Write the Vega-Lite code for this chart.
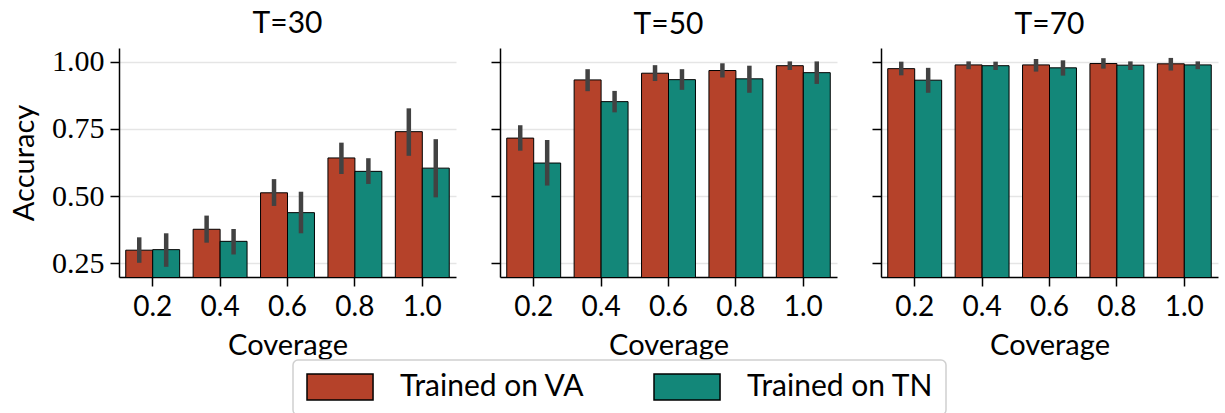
{
  "$schema": "https://vega.github.io/schema/vega-lite/v6.json",
  "background": "white",
  "padding": {"left": 10, "top": 8, "right": 5, "bottom": 0},
  "spacing": 34,
  "data": {"values": [
    {"T": 30, "Coverage": "0.2", "Model": "Trained on VA", "Accuracy": 0.298, "Low": 0.251, "High": 0.346},
    {"T": 30, "Coverage": "0.2", "Model": "Trained on TN", "Accuracy": 0.300, "Low": 0.236, "High": 0.361},
    {"T": 30, "Coverage": "0.4", "Model": "Trained on VA", "Accuracy": 0.376, "Low": 0.326, "High": 0.427},
    {"T": 30, "Coverage": "0.4", "Model": "Trained on TN", "Accuracy": 0.331, "Low": 0.282, "High": 0.377},
    {"T": 30, "Coverage": "0.6", "Model": "Trained on VA", "Accuracy": 0.512, "Low": 0.463, "High": 0.563},
    {"T": 30, "Coverage": "0.6", "Model": "Trained on TN", "Accuracy": 0.438, "Low": 0.361, "High": 0.516},
    {"T": 30, "Coverage": "0.8", "Model": "Trained on VA", "Accuracy": 0.642, "Low": 0.582, "High": 0.699},
    {"T": 30, "Coverage": "0.8", "Model": "Trained on TN", "Accuracy": 0.592, "Low": 0.545, "High": 0.641},
    {"T": 30, "Coverage": "1.0", "Model": "Trained on VA", "Accuracy": 0.740, "Low": 0.650, "High": 0.827},
    {"T": 30, "Coverage": "1.0", "Model": "Trained on TN", "Accuracy": 0.604, "Low": 0.495, "High": 0.712},
    {"T": 50, "Coverage": "0.2", "Model": "Trained on VA", "Accuracy": 0.716, "Low": 0.669, "High": 0.764},
    {"T": 50, "Coverage": "0.2", "Model": "Trained on TN", "Accuracy": 0.623, "Low": 0.539, "High": 0.709},
    {"T": 50, "Coverage": "0.4", "Model": "Trained on VA", "Accuracy": 0.933, "Low": 0.891, "High": 0.973},
    {"T": 50, "Coverage": "0.4", "Model": "Trained on TN", "Accuracy": 0.852, "Low": 0.812, "High": 0.892},
    {"T": 50, "Coverage": "0.6", "Model": "Trained on VA", "Accuracy": 0.958, "Low": 0.929, "High": 0.988},
    {"T": 50, "Coverage": "0.6", "Model": "Trained on TN", "Accuracy": 0.934, "Low": 0.896, "High": 0.973},
    {"T": 50, "Coverage": "0.8", "Model": "Trained on VA", "Accuracy": 0.968, "Low": 0.942, "High": 0.995},
    {"T": 50, "Coverage": "0.8", "Model": "Trained on TN", "Accuracy": 0.937, "Low": 0.885, "High": 0.986},
    {"T": 50, "Coverage": "1.0", "Model": "Trained on VA", "Accuracy": 0.986, "Low": 0.970, "High": 1.002},
    {"T": 50, "Coverage": "1.0", "Model": "Trained on TN", "Accuracy": 0.960, "Low": 0.918, "High": 1.002},
    {"T": 70, "Coverage": "0.2", "Model": "Trained on VA", "Accuracy": 0.975, "Low": 0.950, "High": 1.001},
    {"T": 70, "Coverage": "0.2", "Model": "Trained on TN", "Accuracy": 0.932, "Low": 0.885, "High": 0.978},
    {"T": 70, "Coverage": "0.4", "Model": "Trained on VA", "Accuracy": 0.989, "Low": 0.973, "High": 1.002},
    {"T": 70, "Coverage": "0.4", "Model": "Trained on TN", "Accuracy": 0.986, "Low": 0.970, "High": 1.001},
    {"T": 70, "Coverage": "0.6", "Model": "Trained on VA", "Accuracy": 0.989, "Low": 0.964, "High": 1.011},
    {"T": 70, "Coverage": "0.6", "Model": "Trained on TN", "Accuracy": 0.978, "Low": 0.949, "High": 1.006},
    {"T": 70, "Coverage": "0.8", "Model": "Trained on VA", "Accuracy": 0.994, "Low": 0.975, "High": 1.014},
    {"T": 70, "Coverage": "0.8", "Model": "Trained on TN", "Accuracy": 0.988, "Low": 0.970, "High": 1.002},
    {"T": 70, "Coverage": "1.0", "Model": "Trained on VA", "Accuracy": 0.993, "Low": 0.968, "High": 1.015},
    {"T": 70, "Coverage": "1.0", "Model": "Trained on TN", "Accuracy": 0.989, "Low": 0.973, "High": 1.002}
  ]},
  "config": {
    "view": {"stroke": null},
    "title": {"font": "Lato", "fontSize": 30, "fontWeight": "normal", "color": "black", "offset": 8},
    "axis": {
      "domainColor": "black", "domainWidth": 1.5, "tickColor": "black", "tickWidth": 1.5, "tickSize": 9,
      "labelColor": "black", "titleColor": "black", "titleFontWeight": "normal",
      "titleFont": "Lato", "titleFontSize": 29
    },
    "axisX": {"labelFont": "Lato", "labelFontSize": 28, "labelAngle": 0, "labelPadding": 7, "titlePadding": 10, "grid": false},
    "axisY": {"labelFont": "Liberation Serif", "labelFontSize": 30, "labelPadding": 6, "titlePadding": 12, "gridColor": "#e5e5e5", "gridWidth": 1.5},
    "legend": {
      "orient": "none", "legendX": 174, "legendY": 312, "direction": "horizontal", "title": null,
      "symbolType": "M-1,-1H4.08V1H-1Z", "symbolSize": 676, "symbolStrokeColor": "black", "symbolStrokeWidth": 1.5, "symbolOpacity": 1,
      "labelFont": "Lato", "labelFontSize": 30, "labelColor": "black", "labelOffset": 65, "labelLimit": 400,
      "columnPadding": 66, "strokeColor": "#d0d0d0", "strokeWidth": 1.5, "cornerRadius": 5, "padding": 12, "fillColor": "white"
    }
  },
  "hconcat": [
    {
      "width": 337, "height": 229,
      "title": "T=30",
      "transform": [{"filter": "datum.T == 30"}],
      "encoding": {
        "x": {"field": "Coverage", "type": "nominal", "title": "Coverage", "scale": {"paddingInner": 0.2, "paddingOuter": 0.1}},
        "xOffset": {"field": "Model", "type": "nominal", "sort": ["Trained on VA", "Trained on TN"]}
      },
      "layer": [
        {
          "mark": {"type": "bar", "clip": true, "stroke": "black", "strokeWidth": 1},
          "encoding": {
            "y": {"field": "Accuracy", "type": "quantitative", "scale": {"domain": [0.198, 1.052], "nice": false, "zero": false},
                  "axis": {"values": [0.25, 0.5, 0.75, 1.0], "format": ".2f", "title": "Accuracy", "grid": true}},
            "color": {"field": "Model", "type": "nominal", "scale": {"domain": ["Trained on VA", "Trained on TN"], "range": ["#b5422a", "#138779"]},
                      "legend": {"encode": {"symbols": {"update": {"fill": {"signal": "datum.value === 'Trained on VA' ? '#cc3311' : '#009988'"}, "stroke": {"value": "black"}, "strokeWidth": {"value": 1.5}}}}}}
          }
        },
        {
          "mark": {"type": "rule", "strokeWidth": 4.5, "color": "#424242"},
          "encoding": {
            "y": {"field": "Low", "type": "quantitative"},
            "y2": {"field": "High"}
          }
        }
      ]
    },
    {
      "width": 337, "height": 229,
      "title": "T=50",
      "transform": [{"filter": "datum.T == 50"}],
      "encoding": {
        "x": {"field": "Coverage", "type": "nominal", "title": "Coverage", "scale": {"paddingInner": 0.2, "paddingOuter": 0.1}},
        "xOffset": {"field": "Model", "type": "nominal", "sort": ["Trained on VA", "Trained on TN"]}
      },
      "layer": [
        {
          "mark": {"type": "bar", "clip": true, "stroke": "black", "strokeWidth": 1},
          "encoding": {
            "y": {"field": "Accuracy", "type": "quantitative", "scale": {"domain": [0.198, 1.052], "nice": false, "zero": false},
                  "axis": {"values": [0.25, 0.5, 0.75, 1.0], "labels": false, "title": null, "grid": true}},
            "color": {"field": "Model", "type": "nominal", "scale": {"domain": ["Trained on VA", "Trained on TN"], "range": ["#b5422a", "#138779"]},
                      "legend": {"encode": {"symbols": {"update": {"fill": {"signal": "datum.value === 'Trained on VA' ? '#cc3311' : '#009988'"}, "stroke": {"value": "black"}, "strokeWidth": {"value": 1.5}}}}}}
          }
        },
        {
          "mark": {"type": "rule", "strokeWidth": 4.5, "color": "#424242"},
          "encoding": {
            "y": {"field": "Low", "type": "quantitative"},
            "y2": {"field": "High"}
          }
        }
      ]
    },
    {
      "width": 337, "height": 229,
      "title": "T=70",
      "transform": [{"filter": "datum.T == 70"}],
      "encoding": {
        "x": {"field": "Coverage", "type": "nominal", "title": "Coverage", "scale": {"paddingInner": 0.2, "paddingOuter": 0.1}},
        "xOffset": {"field": "Model", "type": "nominal", "sort": ["Trained on VA", "Trained on TN"]}
      },
      "layer": [
        {
          "mark": {"type": "bar", "clip": true, "stroke": "black", "strokeWidth": 1},
          "encoding": {
            "y": {"field": "Accuracy", "type": "quantitative", "scale": {"domain": [0.198, 1.052], "nice": false, "zero": false},
                  "axis": {"values": [0.25, 0.5, 0.75, 1.0], "labels": false, "title": null, "grid": true}},
            "color": {"field": "Model", "type": "nominal", "scale": {"domain": ["Trained on VA", "Trained on TN"], "range": ["#b5422a", "#138779"]},
                      "legend": {"encode": {"symbols": {"update": {"fill": {"signal": "datum.value === 'Trained on VA' ? '#cc3311' : '#009988'"}, "stroke": {"value": "black"}, "strokeWidth": {"value": 1.5}}}}}}
          }
        },
        {
          "mark": {"type": "rule", "strokeWidth": 4.5, "color": "#424242"},
          "encoding": {
            "y": {"field": "Low", "type": "quantitative"},
            "y2": {"field": "High"}
          }
        }
      ]
    }
  ]
}
